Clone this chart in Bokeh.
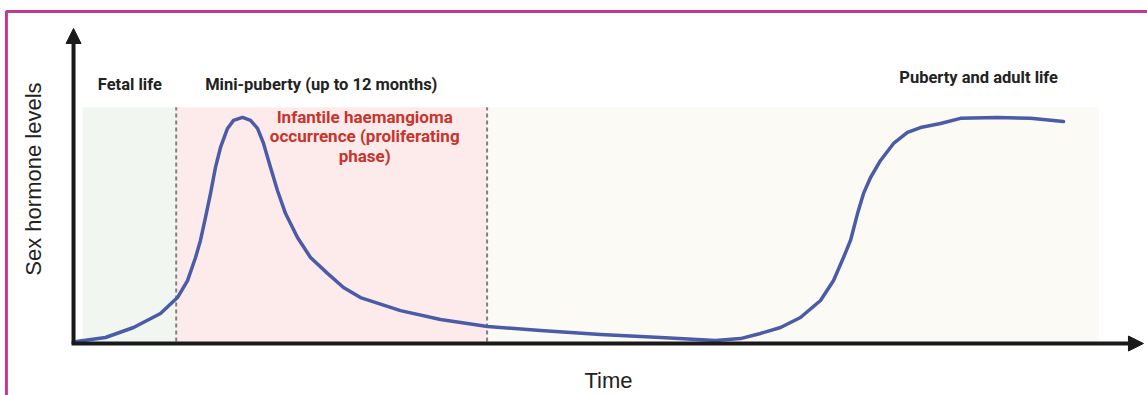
import math
from bokeh.plotting import figure
from bokeh.models import Range1d, Arrow, NormalHead
from bokeh.core.properties import value
from bokeh.embed import file_html
from bokeh.resources import INLINE

# ---- data (time in arbitrary units 0..100, hormone level 0..100) ----
curve_time = [0, 2.94, 5.78, 8.51, 10.23, 11.25, 12.06, 12.56, 13.07, 13.58, 14.08,
              14.59, 15.30, 15.91, 16.82, 17.63, 18.34, 18.95, 19.66, 20.36, 21.18,
              22.39, 23.71, 25.43, 27.05, 28.77, 32.83, 36.88, 41.64, 47.01, 53.09,
              59.17, 64.74, 67.27, 69.30, 71.33, 73.35, 75.38, 76.70, 77.71, 78.42,
              79.13, 79.74, 80.45, 81.46, 82.78, 84.19, 85.51, 87.54, 89.56, 93.31,
              96.66, 100]
curve_level = [0, 1.79, 6.25, 12.5, 19.6, 27.2, 37.5, 45.1, 55.4, 66.1, 77.7,
               86.6, 95.1, 98.7, 100, 98.7, 95.1, 88.4, 77.7, 67.4, 57.1,
               46.4, 37.5, 30.4, 24.1, 19.6, 13.8, 9.8, 6.7, 4.9, 3.1,
               1.8, 0.4, 1.3, 3.6, 6.25, 10.7, 18.3, 27.2, 37.5, 45.1,
               57.1, 66.1, 73.2, 80.8, 88.4, 93.3, 95.5, 97.3, 99.6, 100,
               99.6, 98.2]

phase_names = ["Fetal life", "Mini-puberty (up to 12 months)", "Puberty and adult life"]
phase_start = [0.6, 10.1, 41.6]
phase_end = [10.1, 41.6, 103.6]
phase_colors = ["#f2f6f0", "#fdebec", "#fcfaf5"]
phase_label_x = [5.4, 24.8, 91.4]
phase_label_y = [114.7, 114.7, 117.9]

boundaries = [10.1, 41.6]
band_top = 104.5

note_lines = ["Infantile haemangioma", "occurrence (proliferating", "phase)"]
note_x = [29.2, 29.2, 29.2]
note_y = [100.0, 91.5, 83.0]

x_label = "Time"
y_label = "Sex hormone levels"

# ---- figure ----
W, H = 1147, 395
p = figure(width=W, height=H, output_backend="svg", toolbar_location=None,
           x_axis_type=None, y_axis_type=None, min_border=0,
           x_range=Range1d(-7.70, 108.51), y_range=Range1d(-24.1, 152.2))
p.grid.visible = False
p.outline_line_color = None
p.background_fill_color = "white"
p.border_fill_color = "white"

# magenta frame (top and left edges visible)
p.line([120, -7.1, -7.1], [147.3, 147.3, -40], line_color="#c23a8f", line_width=3)

# phase bands
p.quad(left=phase_start, right=phase_end, bottom=[-0.5] * 3, top=[band_top] * 3,
       fill_color=phase_colors, line_color=None)

# dashed boundaries
for b in boundaries:
    p.line([b, b], [0, band_top], line_color="#808080", line_width=2, line_dash="4 3")

# curve
p.line(curve_time, curve_level, line_color="#4a5ba8", line_width=3.5,
       line_join="round", line_cap="round")

# axes arrows
p.add_layout(Arrow(end=NormalHead(size=15, fill_color="#1a1a1a", line_color="#1a1a1a"),
                   x_start=-0.3, y_start=-1.0, x_end=-0.3, y_end=139.7,
                   line_color="#1a1a1a", line_width=4))
p.add_layout(Arrow(end=NormalHead(size=15, fill_color="#1a1a1a", line_color="#1a1a1a"),
                   x_start=-0.5, y_start=-0.9, x_end=108.1, y_end=-0.9,
                   line_color="#1a1a1a", line_width=4))

# labels
p.text(x=phase_label_x, y=phase_label_y, text=phase_names,
       text_font=value("Roboto"), text_font_style="bold", text_font_size="16.5px",
       text_color="#222222", text_align="center", text_baseline="middle")
p.text(x=note_x, y=note_y, text=note_lines,
       text_font=value("Roboto"), text_font_style="bold", text_font_size="17px",
       text_color="#c8342b", text_align="center", text_baseline="middle")
p.text(x=[53.9], y=[-17.4], text=[x_label],
       text_font=value("Liberation Sans"), text_font_size="22px",
       text_color="#222222", text_align="center", text_baseline="middle")
p.text(x=[-4.36], y=[72.5], text=[y_label], angle=math.pi / 2,
       text_font=value("Liberation Sans"), text_font_size="22px",
       text_color="#222222", text_align="center", text_baseline="middle")

open("out.html", "w").write(file_html(p, INLINE))
